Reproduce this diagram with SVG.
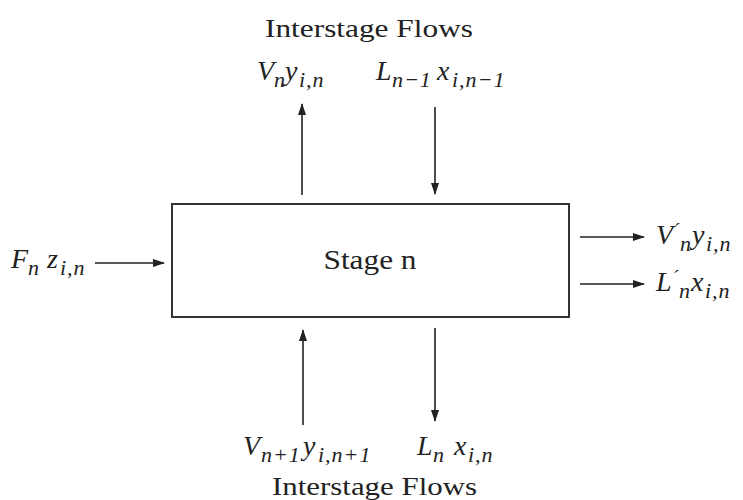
<svg xmlns="http://www.w3.org/2000/svg" width="743" height="500" viewBox="0 0 743 500">
<style>
.t{font-family:"Liberation Serif","Times New Roman",serif;fill:#222;}
.m{font-family:"Liberation Serif","Times New Roman",serif;font-style:italic;fill:#222;font-size:28px;}
.s{font-size:22px;letter-spacing:1px;}
.p{font-size:19px;}
.c{stroke:#222;stroke-width:1.6;fill:none;}
</style>
<defs>
<marker id="ah" markerWidth="12" markerHeight="10" refX="11" refY="5" orient="auto" markerUnits="userSpaceOnUse">
<path d="M0,1 L12,5 L0,9 Z" fill="#222"/>
</marker>
</defs>
<rect width="743" height="500" fill="#fff"/>
<g id="stage">
<rect x="172" y="204" width="397" height="113" fill="#fff" stroke="#333" stroke-width="2"/>
<text class="t" x="370" y="269" font-size="27" text-anchor="middle" textLength="93" lengthAdjust="spacingAndGlyphs">Stage n</text>
</g>
<g id="connectors">
<line class="c" x1="302" y1="195" x2="302" y2="104" marker-end="url(#ah)"/>
<line class="c" x1="435" y1="107" x2="435" y2="194" marker-end="url(#ah)"/>
<line class="c" x1="303" y1="425" x2="303" y2="330" marker-end="url(#ah)"/>
<line class="c" x1="435" y1="328" x2="435" y2="421" marker-end="url(#ah)"/>
<line class="c" x1="95" y1="263" x2="164" y2="263" marker-end="url(#ah)"/>
<line class="c" x1="580" y1="237" x2="644" y2="237" marker-end="url(#ah)"/>
<line class="c" x1="580" y1="284" x2="644" y2="284" marker-end="url(#ah)"/>
</g>
<g id="top-title">
<text class="t" x="265" y="37" font-size="26" textLength="208" lengthAdjust="spacingAndGlyphs">Interstage Flows</text>
</g>
<g id="bottom-title">
<text class="t" x="272" y="495" font-size="26" textLength="205" lengthAdjust="spacingAndGlyphs">Interstage Flows</text>
</g>
<g id="label-vn">
<text class="m" x="257" y="80">V<tspan class="s" x="274" y="87">n</tspan><tspan x="285" y="80">y</tspan><tspan class="s" x="299" y="87">i,n</tspan></text>
</g>
<g id="label-ln1">
<text class="m" x="376" y="80">L<tspan class="s" x="392" y="87">n−1</tspan><tspan x="437" y="80">x</tspan><tspan class="s" x="452" y="87">i,n−1</tspan></text>
</g>
<g id="label-vn1">
<text class="m" x="243" y="455">V<tspan class="s" x="261" y="462">n+1</tspan><tspan x="303" y="455">y</tspan><tspan class="s" x="318" y="462">i,n+1</tspan></text>
</g>
<g id="label-ln">
<text class="m" x="417" y="455">L<tspan class="s" x="433" y="462">n</tspan><tspan x="454" y="455">x</tspan><tspan class="s" x="468" y="462">i,n</tspan></text>
</g>
<g id="label-fn">
<text class="m" x="11" y="268">F<tspan class="s" x="28" y="275">n</tspan><tspan x="47" y="268">z</tspan><tspan class="s" x="60" y="275">i,n</tspan></text>
</g>
<g id="label-vprime">
<text class="m" x="656" y="244">V<tspan class="p" x="673" y="236">´</tspan><tspan class="s" x="680" y="251">n</tspan><tspan x="692" y="244">y</tspan><tspan class="s" x="706" y="251">i,n</tspan></text>
</g>
<g id="label-lprime">
<text class="m" x="656" y="291">L<tspan class="p" x="672" y="283">´</tspan><tspan class="s" x="679" y="298">n</tspan><tspan x="691" y="291">x</tspan><tspan class="s" x="705" y="298">i,n</tspan></text>
</g>
</svg>
